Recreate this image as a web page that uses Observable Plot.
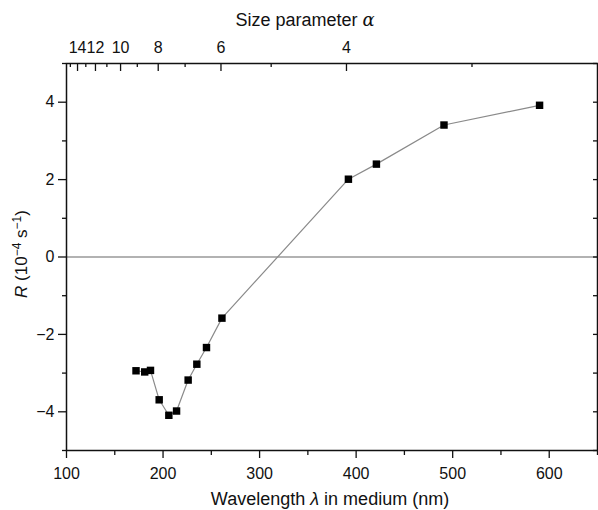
<!DOCTYPE html>
<html><head><meta charset="utf-8">
<script src="https://cdn.jsdelivr.net/npm/d3@7"></script>
<script src="https://cdn.jsdelivr.net/npm/@observablehq/plot@0.6"></script>
<style>body{margin:0;background:#fff} svg{display:block}</style>
</head><body><div id="chart"></div>
<script>
const wavelength = [172,181,187,196,206,214,226,235,245,261,392,421,491,590];
const rate = [-2.94,-2.97,-2.93,-3.69,-4.09,-3.98,-3.18,-2.77,-2.34,-1.58,2.01,2.40,3.41,3.92];
const xTicks = [100,200,300,400,500,600];
const xMinorTicks = [150,250,350,450,550,650];
const yTicks = [-4,-2,0,2,4];
const yMinorTicks = [-5,-3,-1,1,3,5];
const alphaMajorTicks = [14,12,10,8,6,4];
const alphaMinorTicks = [15,13,11,9,7,5,3];
const alphaLabels = [14,12,10,8,6,4];
const alphaConst = 1560; // wavelength = alphaConst / alpha

const points = wavelength.map((w, i) => ({w, r: rate[i]}));
const W = 598, H = 510, mL = 66, mR = 1, mT = 63, mB = 60;
const plotH = H - mT - mB, plotW = W - mL - mR;
const minus = d => String(d).replace("-", "\u2212");

const chart = Plot.plot({
  width: W, height: H,
  marginLeft: mL, marginRight: mR, marginTop: mT, marginBottom: mB,
  style: {fontFamily: "'Liberation Sans', Arial, sans-serif", fontSize: "16px", color: "#111", background: "#fff"},
  x: {domain: [100, 650], axis: null},
  y: {domain: [-5, 5], axis: null},
  marks: [
    Plot.ruleY([0], {stroke: "#666", strokeWidth: 1.2}),
    Plot.axisX(xTicks, {tickSize: 8, tickPadding: 9, fontSize: 16, label: null, strokeWidth: 1.3}),
    Plot.axisX(xMinorTicks, {tickSize: 5, tickFormat: () => "", label: null, strokeWidth: 1.3}),
    Plot.axisY(yTicks, {tickSize: 8, tickPadding: 4, fontSize: 16, tickFormat: minus, label: null, strokeWidth: 1.3}),
    Plot.axisY(yMinorTicks, {tickSize: 4, tickFormat: () => "", label: null, strokeWidth: 1.3}),
    Plot.tickY(yTicks.concat(yMinorTicks), {y: d => d, insetLeft: plotW - 4, stroke: "#111", strokeWidth: 1.3}),
    Plot.tickX(alphaMajorTicks, {x: a => alphaConst / a, insetBottom: plotH - 8, stroke: "#111", strokeWidth: 1.3}),
    Plot.tickX(alphaMinorTicks, {x: a => alphaConst / a, insetBottom: plotH - 4, stroke: "#111", strokeWidth: 1.3}),
    Plot.text(alphaLabels, {x: a => alphaConst / a, text: d => String(d), frameAnchor: "top", dy: -22, fontSize: 16, fill: "#111"}),
    Plot.line(points, {x: "w", y: "r", stroke: "#8a8a8a", strokeWidth: 1.2}),
    Plot.dot(points, {x: "w", y: "r", symbol: "square", r: 4.2, fill: "#000", stroke: "none"}),
    Plot.frame({stroke: "#111", strokeWidth: 1.5})
  ]
});
document.getElementById("chart").appendChild(chart);

const svg = d3.select(chart);
const font = "'Liberation Sans', Arial, sans-serif";
// top title
const t1 = svg.append("text").attr("x", 305).attr("y", 26).attr("text-anchor", "middle")
  .attr("font-family", font).attr("font-size", 18).attr("fill", "#111");
t1.append("tspan").text("Size parameter ");
t1.append("tspan").attr("font-style", "italic").attr("font-family", "'DejaVu Serif', serif").text("\u03b1");
// bottom title
const t2 = svg.append("text").attr("x", 330).attr("y", 505).attr("text-anchor", "middle")
  .attr("font-family", font).attr("font-size", 18).attr("fill", "#111");
t2.append("tspan").text("Wavelength ");
t2.append("tspan").attr("font-style", "italic").text("\u03bb");
t2.append("tspan").text(" in medium (nm)");
// y title
const t3 = svg.append("text").attr("transform", "translate(27,254) rotate(-90)").attr("text-anchor", "middle")
  .attr("font-family", font).attr("font-size", 17).attr("fill", "#111");
t3.append("tspan").attr("font-style", "italic").text("R");
t3.append("tspan").text(" (10");
t3.append("tspan").attr("font-size", 12).attr("dy", -6).text("\u22124");
t3.append("tspan").attr("dy", 6).text(" s");
t3.append("tspan").attr("font-size", 12).attr("dy", -6).text("\u22121");
t3.append("tspan").attr("dy", 6).text(")");
</script>
</body></html>
